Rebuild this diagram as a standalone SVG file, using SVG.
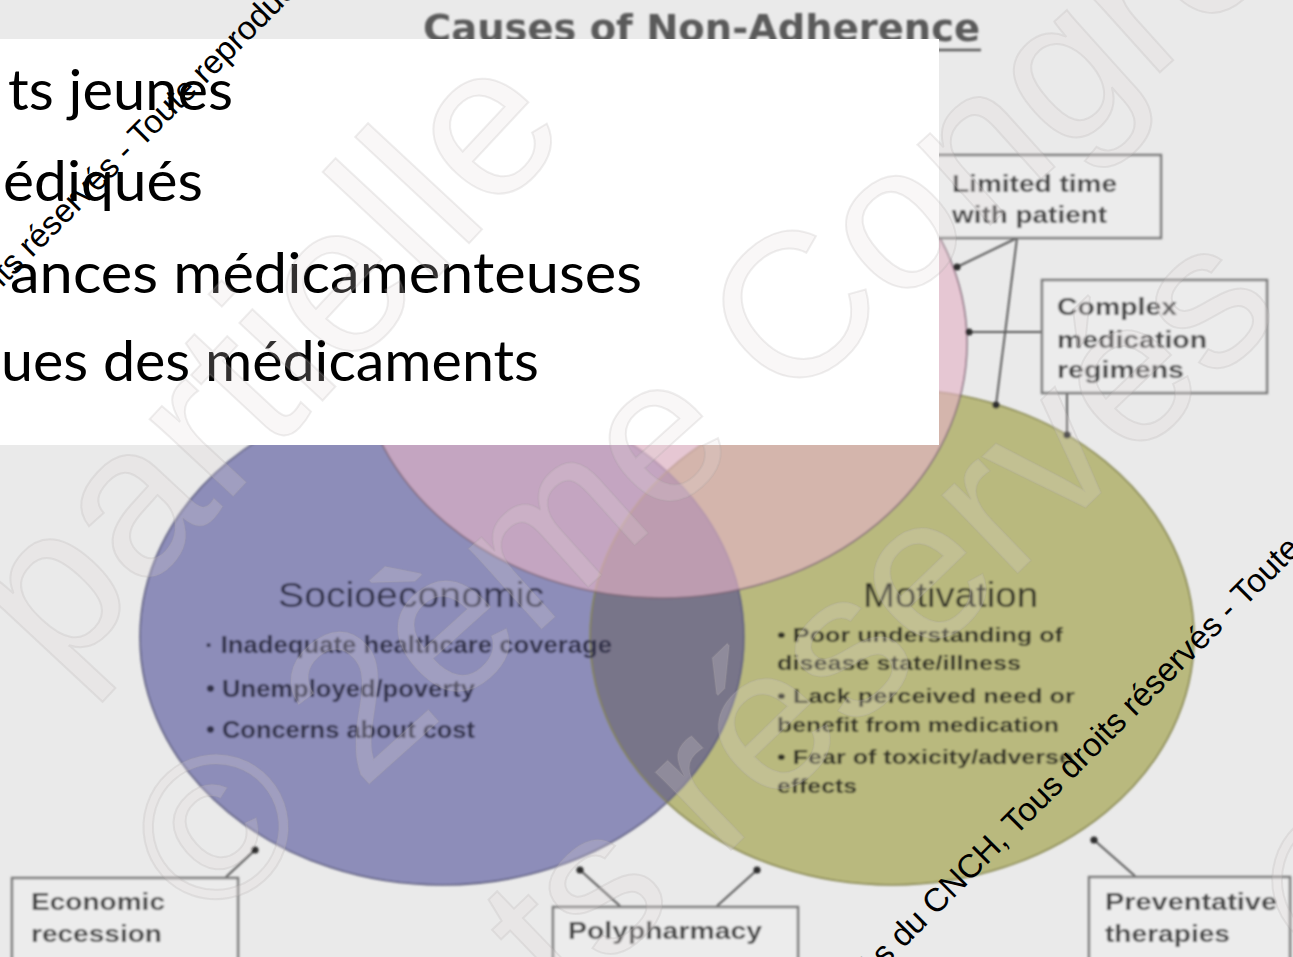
<svg xmlns="http://www.w3.org/2000/svg" width="1293" height="957" viewBox="0 0 1293 957">
  <defs>
    <style>
      .bg { fill: #eaeaea; }
      .title { font-family: "DejaVu Sans", "Liberation Sans", sans-serif; font-weight: bold; font-size: 38px; fill: #5a5a5a; }
      .head { font-family: "Liberation Sans", Arial, sans-serif; font-size: 35px; }
      .item { font-family: "Liberation Sans", Arial, sans-serif; font-weight: bold; }
      .box rect { fill: #ececec; stroke: #7a7a7a; stroke-width: 2.5; }
      .box text { font-family: "Liberation Sans", Arial, sans-serif; font-weight: bold; font-size: 24px; fill: #464646; }
      .conn line { stroke: #5a5a5a; stroke-width: 2; marker-end: url(#tip); }
      .slide { font-family: Lato, "Open Sans", sans-serif; font-size: 57px; fill: #000; }
      .wm { font-family: "Liberation Sans", Arial, sans-serif; fill: #e2dcdc; fill-opacity: 0.22; stroke: #a8a0a0; stroke-opacity: 0.18; stroke-width: 2; }
      .mark { font-family: "Liberation Sans", Arial, sans-serif; font-size: 33px; fill: #000; }
    </style>
    <marker id="tip" markerUnits="userSpaceOnUse" markerWidth="9" markerHeight="9" refX="4.5" refY="4.5" viewBox="0 0 9 9">
      <circle cx="4.5" cy="4.5" r="3.6" fill="#2e2e2e"/>
    </marker>
    <clipPath id="inBlue">
      <ellipse cx="442" cy="637" rx="302" ry="248"/>
    </clipPath>
    <filter id="soft">
      <feGaussianBlur stdDeviation="0.9"/>
    </filter>
  </defs>

  <rect class="bg" x="0" y="0" width="1293" height="957"/>

  <!-- Venn diagram layer (slightly soft) -->
  <g id="diagram" filter="url(#soft)">
    <g id="title">
      <text class="title" x="423" y="41" textLength="557" lengthAdjust="spacingAndGlyphs">Causes of Non-Adherence</text>
      <line x1="423" y1="50" x2="981" y2="50" stroke="#5a5a5a" stroke-width="2.5"/>
    </g>

    <!-- circle fills -->
    <g id="node-socioeconomic-fill">
      <ellipse cx="442" cy="637" rx="302" ry="248" fill="#8d8db9"/>
    </g>
    <g id="node-motivation-fill">
      <ellipse cx="892" cy="637" rx="302" ry="248" fill="#b9b97e"/>
    </g>
    <g id="overlap-socio-motivation">
      <ellipse cx="892" cy="637" rx="302" ry="248" fill="#787589" clip-path="url(#inBlue)"/>
    </g>
    <ellipse cx="442" cy="637" rx="302" ry="248" fill="none" stroke="#5d5d7e" stroke-width="1.6"/>
    <ellipse cx="892" cy="637" rx="302" ry="248" fill="none" stroke="#85854f" stroke-width="1.6"/>
    <g id="node-top-circle">
      <ellipse cx="662" cy="343" rx="305" ry="255" fill="#e4b4c7" fill-opacity="0.635"/>
      <ellipse cx="662" cy="343" rx="305" ry="255" fill="none" stroke="#7e6676" stroke-width="1.6" stroke-opacity="0.85"/>
    </g>

    <!-- circle labels -->
    <g id="node-socioeconomic" fill="#30304a">
      <text class="head" x="278" y="607" textLength="266" lengthAdjust="spacingAndGlyphs">Socioeconomic</text>
      <text class="item" x="205" y="653" font-size="23" textLength="407" lengthAdjust="spacingAndGlyphs">· Inadequate healthcare coverage</text>
      <text class="item" x="206" y="697" font-size="23" textLength="269" lengthAdjust="spacingAndGlyphs">• Unemployed/poverty</text>
      <text class="item" x="206" y="738" font-size="23" textLength="269" lengthAdjust="spacingAndGlyphs">• Concerns about cost</text>
    </g>
    <g id="node-motivation" fill="#333327">
      <text class="head" x="863" y="607" textLength="175" lengthAdjust="spacingAndGlyphs">Motivation</text>
      <text class="item" x="777" y="642" font-size="21" textLength="286" lengthAdjust="spacingAndGlyphs">• Poor understanding of</text>
      <text class="item" x="777" y="670" font-size="21" textLength="244" lengthAdjust="spacingAndGlyphs">disease state/illness</text>
      <text class="item" x="777" y="703" font-size="21" textLength="298" lengthAdjust="spacingAndGlyphs">• Lack perceived need or</text>
      <text class="item" x="777" y="732" font-size="21" textLength="282" lengthAdjust="spacingAndGlyphs">benefit from medication</text>
      <text class="item" x="777" y="764" font-size="21" textLength="296" lengthAdjust="spacingAndGlyphs">• Fear of toxicity/adverse</text>
      <text class="item" x="777" y="793" font-size="21" textLength="80" lengthAdjust="spacingAndGlyphs">effects</text>
    </g>

    <!-- connectors -->
    <g id="connectors" class="conn">
      <line x1="1017" y1="238" x2="957" y2="267"/>
      <line x1="1017" y1="238" x2="996" y2="405"/>
      <line x1="1042" y1="332" x2="969" y2="332"/>
      <line x1="1067" y1="393" x2="1067" y2="435"/>
      <line x1="226" y1="877" x2="255" y2="850"/>
      <line x1="620" y1="906" x2="580" y2="870"/>
      <line x1="717" y1="906" x2="757" y2="870"/>
      <line x1="1135" y1="876" x2="1094" y2="840"/>
    </g>

    <!-- cause boxes -->
    <g id="node-limited-time" class="box">
      <rect x="936" y="155" width="225" height="83"/>
      <text x="952" y="192" textLength="165" lengthAdjust="spacingAndGlyphs">Limited time</text>
      <text x="952" y="223" textLength="155" lengthAdjust="spacingAndGlyphs">with patient</text>
    </g>
    <g id="node-complex-regimens" class="box">
      <rect x="1042" y="280" width="225" height="113"/>
      <text x="1057" y="315" textLength="120" lengthAdjust="spacingAndGlyphs">Complex</text>
      <text x="1057" y="348" textLength="150" lengthAdjust="spacingAndGlyphs">medication</text>
      <text x="1057" y="378" textLength="127" lengthAdjust="spacingAndGlyphs">regimens</text>
    </g>
    <g id="node-economic-recession" class="box">
      <rect x="12" y="878" width="226" height="92"/>
      <text x="31" y="910" textLength="134" lengthAdjust="spacingAndGlyphs">Economic</text>
      <text x="31" y="942" textLength="131" lengthAdjust="spacingAndGlyphs">recession</text>
    </g>
    <g id="node-polypharmacy" class="box">
      <rect x="553" y="907" width="245" height="62"/>
      <text x="568" y="939" textLength="194" lengthAdjust="spacingAndGlyphs">Polypharmacy</text>
    </g>
    <g id="node-preventative" class="box">
      <rect x="1089" y="877" width="201" height="92"/>
      <text x="1105" y="910" textLength="172" lengthAdjust="spacingAndGlyphs">Preventative</text>
      <text x="1105" y="942" textLength="125" lengthAdjust="spacingAndGlyphs">therapies</text>
    </g>
  </g>

  <!-- slide text panel -->
  <g id="text-panel">
    <rect x="-2" y="39" width="941" height="406" fill="#ffffff"/>
    <text class="slide" x="8" y="110" textLength="225" lengthAdjust="spacingAndGlyphs">ts jeunes</text>
    <text class="slide" x="3" y="201" textLength="200" lengthAdjust="spacingAndGlyphs">édiqués</text>
    <text class="slide" x="10" y="293" textLength="632" lengthAdjust="spacingAndGlyphs">ances médicamenteuses</text>
    <text class="slide" x="1" y="381" textLength="538" lengthAdjust="spacingAndGlyphs">ues des médicaments</text>
  </g>

  <!-- large faint copyright overlay -->
  <g id="overlay-large">
    <text class="wm" font-size="215" transform="translate(60 682) rotate(-47)">partielle</text>
    <text class="wm" font-size="205" transform="translate(207 930) rotate(-42)">© 2ème Congrès</text>
    <text class="wm" font-size="205" transform="translate(565 1010) rotate(-44)">ts réservés</text>
    <text class="wm" font-size="210" transform="translate(1341 986) rotate(-44)">©</text>
  </g>

  <!-- small copyright lines -->
  <g id="overlay-small">
    <text class="mark" transform="translate(2 288) rotate(-45)">its réservés - Toute reproduc</text>
    <text class="mark" font-size="32" transform="translate(872 980) rotate(-45)">ès du CNCH, Tous droits réservés - Toute</text>
  </g>
</svg>
